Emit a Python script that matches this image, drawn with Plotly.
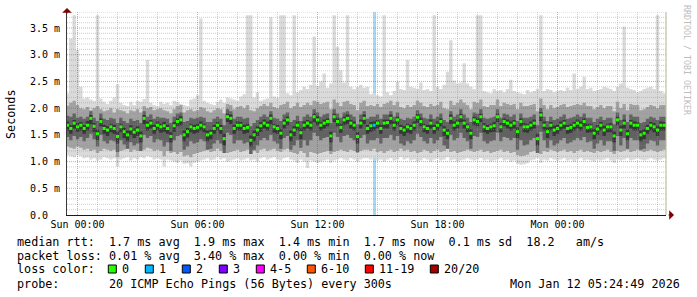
import plotly.graph_objects as go
import pandas as pd

# ---------------- data (round-trip times in 1/100 ms, 10-minute steps) -------------
START = "2026-01-10 23:25:00"
N_STEPS = 180

MEDIAN = [
    168, 162, 172, 165, 168, 162, 168, 181, 166, 152,
    175, 162, 159, 165, 162, 147, 165, 156, 150, 161,
    155, 159, 148, 181, 168, 172, 162, 168, 165, 167,
    162, 147, 167, 175, 178, 150, 156, 165, 162, 164,
    168, 165, 150, 153, 162, 168, 162, 143, 184, 181,
    162, 168, 168, 162, 164, 140, 150, 159, 167, 172,
    168, 181, 165, 162, 153, 172, 178, 150, 159, 168,
    154, 168, 172, 168, 184, 178, 168, 172, 175, 148,
    184, 175, 164, 178, 181, 172, 168, 147, 172, 181,
    162, 167, 168, 172, 162, 172, 173, 181, 168, 178,
    162, 159, 165, 162, 168, 183, 175, 165, 162, 172,
    162, 168, 175, 159, 153, 181, 168, 172, 184, 172,
    165, 153, 178, 175, 184, 165, 162, 165, 167, 184,
    165, 175, 172, 168, 172, 156, 175, 165, 165, 168,
    172, 143, 187, 168, 156, 168, 159, 162, 168, 172,
    162, 164, 168, 172, 168, 175, 164, 165, 153, 161,
    168, 159, 165, 165, 148, 178, 159, 172, 152, 172,
    168, 168, 150, 153, 162, 168, 165, 159, 168, 168,
]

SMOKE_MAX = [
    228, 330, 374, 309, 240, 218, 220, 216, 214, 374,
    218, 212, 208, 214, 220, 245, 210, 206, 204, 212,
    206, 214, 212, 217, 290, 210, 206, 204, 212, 208,
    210, 206, 214, 212, 208, 206, 204, 216, 218, 224,
    368, 214, 210, 208, 206, 212, 216, 210, 220, 218,
    216, 214, 222, 226, 374, 374, 220, 230, 214, 216,
    218, 370, 222, 220, 374, 374, 228, 224, 374, 230,
    234, 240, 236, 244, 334, 242, 250, 265, 238, 246,
    374, 315, 271, 248, 374, 240, 236, 240, 244, 238,
    240, 226, 228, 224, 222, 374, 230, 224, 232, 250,
    236, 234, 290, 240, 238, 236, 248, 234, 236, 232,
    374, 240, 236, 244, 268, 327, 252, 246, 248, 284,
    246, 240, 236, 374, 374, 232, 230, 228, 236, 232,
    234, 230, 236, 253, 232, 230, 228, 226, 234, 230,
    232, 236, 374, 232, 236, 234, 230, 232, 234, 232,
    238, 234, 265, 236, 240, 259, 236, 238, 232, 234,
    236, 240, 238, 236, 232, 240, 246, 353, 238, 236,
    234, 230, 232, 236, 238, 240, 236, 374, 232, 228,
]

SMOKE_MIN = [
    112, 110, 108, 112, 110, 106, 108, 104, 106, 102,
    104, 108, 106, 104, 106, 91, 104, 106, 108, 102,
    106, 104, 108, 106, 110, 108, 104, 106, 104, 91,
    104, 102, 100, 98, 102, 96, 97, 91, 98, 100,
    102, 104, 106, 102, 104, 108, 104, 106, 100, 102,
    104, 106, 102, 104, 106, 102, 104, 100, 106, 108,
    104, 106, 108, 104, 102, 106, 108, 104, 102, 98,
    104, 100, 88, 102, 100, 98, 100, 102, 104, 98,
    102, 104, 106, 104, 102, 106, 104, 100, 104, 106,
    106, 104, 108, 102, 104, 100, 104, 106, 102, 104,
    108, 104, 106, 102, 104, 100, 102, 106, 104, 100,
    104, 106, 102, 104, 108, 102, 104, 100, 102, 104,
    106, 104, 102, 104, 106, 102, 104, 100, 102, 104,
    106, 102, 104, 100, 102, 96, 94, 95, 97, 102,
    104, 106, 98, 104, 102, 106, 104, 102, 104, 106,
    102, 104, 100, 104, 106, 102, 104, 102, 100, 104,
    102, 104, 106, 102, 98, 104, 102, 104, 106, 102,
    104, 106, 104, 102, 104, 106, 104, 102, 104, 106,
]

SMOKE_HI2 = [
    205, 210, 214, 206, 200, 198, 202, 196, 200, 204,
    198, 194, 196, 200, 192, 198, 196, 194, 190, 196,
    194, 198, 192, 204, 200, 202, 196, 198, 200, 196,
    194, 190, 198, 204, 206, 192, 196, 198, 194, 196,
    202, 200, 194, 192, 196, 200, 198, 190, 208, 206,
    198, 202, 204, 200, 206, 196, 194, 200, 204, 208,
    204, 210, 202, 200, 206, 208, 212, 200, 204, 210,
    202, 206, 210, 206, 214, 212, 208, 210, 212, 198,
    216, 210, 204, 212, 214, 208, 206, 196, 210, 214,
    204, 206, 204, 208, 202, 208, 210, 214, 206, 212,
    202, 200, 206, 202, 206, 214, 210, 204, 202, 208,
    204, 206, 212, 200, 198, 214, 206, 210, 216, 210,
    206, 198, 212, 210, 216, 204, 202, 206, 206, 216,
    204, 210, 208, 206, 208, 198, 210, 204, 204, 206,
    208, 194, 218, 206, 198, 206, 200, 202, 206, 208,
    202, 204, 206, 208, 206, 210, 204, 204, 198, 202,
    206, 200, 204, 204, 194, 212, 200, 208, 196, 208,
    206, 206, 196, 198, 202, 206, 204, 200, 206, 206,
]

SMOKE_LO2 = [
    128, 126, 124, 128, 126, 122, 124, 120, 122, 116,
    120, 124, 122, 120, 122, 108, 120, 122, 124, 118,
    122, 120, 124, 122, 126, 124, 120, 122, 120, 110,
    120, 116, 118, 114, 118, 110, 112, 108, 114, 116,
    118, 120, 122, 118, 120, 124, 120, 122, 116, 118,
    120, 122, 118, 120, 122, 116, 120, 116, 122, 124,
    120, 122, 124, 120, 118, 122, 124, 118, 116, 114,
    120, 116, 108, 118, 116, 114, 116, 118, 120, 114,
    118, 120, 122, 120, 118, 122, 120, 116, 120, 122,
    122, 120, 124, 118, 120, 116, 120, 122, 118, 120,
    124, 120, 122, 118, 120, 116, 118, 122, 120, 116,
    120, 122, 118, 120, 124, 118, 120, 116, 118, 120,
    122, 120, 118, 120, 122, 118, 120, 116, 118, 120,
    122, 118, 120, 116, 118, 112, 110, 111, 113, 118,
    120, 116, 114, 120, 118, 122, 120, 118, 120, 122,
    118, 120, 116, 120, 122, 118, 120, 118, 116, 120,
    118, 120, 122, 118, 114, 120, 118, 120, 122, 118,
    120, 122, 120, 118, 120, 122, 120, 118, 120, 122,
]

SMOKE_HI3 = [
    186, 184, 190, 182, 184, 180, 184, 194, 182, 176,
    190, 180, 178, 182, 180, 172, 182, 176, 172, 180,
    176, 178, 172, 194, 184, 188, 180, 184, 182, 182,
    180, 172, 184, 190, 192, 174, 176, 182, 180, 182,
    184, 182, 174, 174, 180, 184, 180, 168, 198, 194,
    180, 184, 184, 180, 182, 166, 172, 178, 184, 188,
    184, 194, 182, 180, 176, 188, 192, 174, 178, 186,
    176, 184, 188, 184, 198, 192, 184, 188, 190, 172,
    198, 190, 182, 192, 194, 188, 184, 170, 188, 194,
    180, 184, 184, 188, 180, 188, 188, 194, 184, 192,
    180, 178, 182, 180, 184, 196, 190, 182, 180, 188,
    180, 184, 190, 178, 174, 194, 184, 188, 198, 188,
    182, 174, 192, 190, 198, 182, 180, 182, 184, 198,
    182, 190, 188, 184, 188, 176, 190, 182, 182, 184,
    188, 168, 200, 184, 176, 184, 178, 180, 184, 188,
    180, 182, 184, 188, 184, 190, 182, 182, 174, 180,
    184, 178, 182, 182, 170, 192, 178, 188, 174, 188,
    184, 184, 172, 174, 180, 184, 182, 178, 184, 184,
]

SMOKE_LO3 = [
    146, 140, 148, 142, 146, 138, 144, 152, 142, 128,
    150, 138, 134, 140, 138, 118, 140, 132, 124, 136,
    130, 134, 120, 150, 144, 148, 136, 142, 140, 128,
    136, 120, 140, 148, 150, 122, 128, 138, 134, 136,
    142, 138, 122, 124, 134, 140, 134, 116, 154, 150,
    134, 140, 140, 134, 136, 114, 122, 130, 140, 144,
    140, 150, 138, 134, 124, 144, 148, 122, 130, 140,
    126, 140, 130, 140, 154, 148, 140, 144, 146, 120,
    154, 146, 136, 148, 150, 144, 140, 118, 144, 150,
    134, 140, 140, 144, 134, 144, 144, 150, 140, 148,
    134, 130, 138, 134, 140, 152, 146, 138, 134, 144,
    134, 140, 146, 130, 124, 150, 140, 144, 154, 144,
    138, 124, 148, 146, 154, 138, 134, 138, 140, 154,
    138, 146, 144, 140, 144, 122, 140, 130, 132, 140,
    144, 116, 156, 140, 126, 140, 130, 134, 140, 144,
    134, 136, 140, 144, 140, 146, 136, 138, 124, 134,
    140, 130, 138, 138, 120, 148, 130, 144, 124, 144,
    140, 140, 122, 124, 134, 140, 138, 130, 140, 140,
]

SMOKE_HI4 = [
    175, 168, 178, 172, 174, 168, 176, 187, 172, 160,
    181, 169, 166, 171, 169, 156, 171, 163, 158, 168,
    162, 166, 156, 187, 175, 178, 169, 175, 171, 174,
    169, 155, 174, 181, 185, 158, 163, 171, 169, 171,
    175, 171, 158, 160, 169, 174, 169, 152, 190, 188,
    169, 175, 174, 169, 171, 149, 158, 166, 174, 179,
    175, 188, 171, 169, 161, 179, 184, 158, 166, 175,
    162, 175, 178, 175, 190, 185, 174, 179, 181, 156,
    190, 182, 171, 184, 188, 178, 175, 155, 179, 188,
    169, 174, 175, 178, 169, 179, 179, 188, 175, 184,
    169, 166, 171, 169, 175, 189, 182, 171, 169, 179,
    169, 175, 181, 166, 161, 188, 175, 179, 190, 179,
    171, 161, 184, 182, 190, 172, 169, 171, 174, 190,
    172, 181, 179, 175, 178, 164, 181, 172, 171, 175,
    179, 152, 193, 175, 164, 174, 167, 169, 175, 178,
    169, 171, 174, 179, 175, 181, 171, 171, 161, 168,
    174, 167, 171, 172, 156, 184, 167, 179, 160, 178,
    175, 174, 158, 161, 169, 174, 172, 167, 175, 174,
]

SMOKE_LO4 = [
    158, 152, 162, 156, 158, 152, 158, 170, 156, 140,
    166, 152, 148, 155, 152, 134, 155, 144, 138, 150,
    144, 148, 136, 170, 158, 162, 152, 158, 154, 156,
    152, 136, 156, 166, 168, 138, 145, 155, 152, 154,
    158, 155, 138, 142, 152, 158, 152, 130, 174, 170,
    152, 158, 158, 152, 154, 128, 138, 148, 156, 162,
    158, 170, 154, 152, 142, 162, 168, 138, 148, 158,
    142, 158, 162, 158, 174, 168, 158, 162, 166, 136,
    174, 166, 154, 168, 170, 162, 158, 134, 162, 170,
    152, 156, 158, 162, 152, 162, 162, 170, 158, 168,
    152, 148, 154, 152, 158, 172, 166, 155, 152, 162,
    152, 158, 166, 148, 142, 170, 158, 162, 174, 162,
    155, 142, 168, 166, 174, 155, 152, 155, 156, 174,
    155, 166, 162, 158, 162, 144, 166, 155, 154, 158,
    162, 130, 176, 158, 144, 158, 148, 152, 158, 162,
    152, 154, 158, 162, 158, 166, 154, 155, 142, 150,
    158, 148, 155, 155, 136, 168, 148, 162, 140, 162,
    158, 158, 138, 142, 152, 158, 155, 148, 158, 158,
]

# lost pings (of 20) per step
LOSS = [
    0, 0, 0, 0, 0, 0, 0, 0, 0, 0,
    0, 0, 0, 0, 0, 0, 0, 0, 0, 0,
    0, 0, 0, 0, 0, 0, 0, 0, 0, 0,
    0, 0, 0, 0, 0, 0, 0, 0, 0, 0,
    0, 0, 0, 0, 0, 0, 0, 0, 0, 0,
    0, 0, 0, 0, 0, 0, 0, 0, 0, 0,
    0, 0, 0, 0, 0, 0, 0, 0, 0, 0,
    0, 0, 0, 0, 0, 0, 0, 0, 0, 0,
    0, 0, 0, 0, 0, 0, 0, 0, 0, 0,
    0, 0, 1, 0, 0, 0, 0, 0, 0, 0,
    0, 0, 0, 0, 0, 0, 0, 0, 0, 0,
    0, 0, 0, 0, 0, 0, 0, 0, 0, 0,
    0, 0, 0, 0, 0, 0, 0, 0, 0, 0,
    0, 0, 0, 0, 0, 0, 0, 0, 0, 0,
    0, 0, 0, 0, 0, 0, 0, 0, 0, 0,
    0, 0, 0, 0, 0, 0, 0, 0, 0, 0,
    0, 0, 0, 0, 0, 0, 0, 0, 0, 0,
    0, 0, 0, 0, 0, 0, 0, 0, 0, 0,
]

LOSS_LABELS = ["0", "1", "2", "3", "4-5", "6-10", "11-19", "20/20"]
LOSS_COLORS = ["#26ff00", "#00b8ff", "#0059ff", "#7e00ff", "#ff00ff", "#ff5500", "#ff0000", "#a10000"]
LOSS_BG = ["#ffffff", "#a2d9f3", "#9ab8f5", "#c2a3f5", "#f5a3f5", "#f5bba3", "#f5a3a3", "#d9a3a3"]

X_RANGE = ["2026-01-10 23:28:30", "2026-01-12 05:25:30"]
Y_MAX = 3.8
Y_TICKS = [0.0, 0.5, 1.0, 1.5, 2.0, 2.5, 3.0, 3.5]
Y_TICKTEXT = ["0.0\u00a0\u00a0", "0.5 m", "1.0 m", "1.5 m", "2.0 m", "2.5 m", "3.0 m", "3.5 m"]

LINE1 = "median rtt:  1.7 ms avg  1.9 ms max  1.4 ms min  1.7 ms now  0.1 ms sd  18.2   am/s"
LINE2 = "packet loss: 0.01 % avg  3.40 % max  0.00 % min  0.00 % now"
LINE3 = "loss color:"
LINE4 = "probe:       20 ICMP Echo Pings (56 Bytes) every 300s"
STAMP = "Mon Jan 12 05:24:49 2026"
WATERMARK = "RRDTOOL / TOBI OETIKER"

for arr in (MEDIAN, SMOKE_MAX, SMOKE_MIN, SMOKE_HI2, SMOKE_LO2, SMOKE_HI3, SMOKE_LO3, SMOKE_HI4, SMOKE_LO4, LOSS):
    assert len(arr) == N_STEPS, len(arr)

# ---------------- geometry helpers -------------------------------------------------
W, H = 697, 297
ML, MR, MT, MB = 67, 31, 12, 82
PW, PH = W - ML - MR, H - MT - MB


def px_x(px):
    return (px - ML) / PW


def px_y(py):
    return (H - MB - py) / PH


def ms(a):
    return [v / 100.0 for v in a]


def loss_index(n):
    if n <= 3:
        return n
    if n <= 5:
        return 4
    if n <= 10:
        return 5
    if n <= 19:
        return 6
    return 7


MONO = "DejaVu Sans Mono"

t = pd.date_range(START, periods=N_STEPS, freq="10min")
t_edges = list(t) + [t[-1] + pd.Timedelta(minutes=10)]
t_mid = t + pd.Timedelta(minutes=5)

fig = go.Figure()

# loss background columns
lx = [t_mid[i] for i in range(N_STEPS) if LOSS[i] > 0]
lc = [LOSS_BG[loss_index(LOSS[i])] for i in range(N_STEPS) if LOSS[i] > 0]
fig.add_trace(go.Bar(x=lx, y=[Y_MAX] * len(lx), width=600000, marker=dict(color=lc, line=dict(width=0)),
                     hoverinfo="skip", showlegend=False))

# smoke
bands = [
    (SMOKE_MIN, SMOKE_MAX, "#dadada"),
    (SMOKE_LO2, SMOKE_HI2, "#a2a2a2"),
    (SMOKE_LO3, SMOKE_HI3, "#626262"),
    (SMOKE_LO4, SMOKE_HI4, "#363636"),
]
for lo, hi, col in bands:
    lo_v, hi_v = ms(lo), ms(hi)
    fig.add_trace(go.Scatter(x=t_edges, y=lo_v + [lo_v[-1]], mode="lines",
                             line=dict(width=0, shape="hv"), hoverinfo="skip", showlegend=False))
    fig.add_trace(go.Scatter(x=t_edges, y=hi_v + [hi_v[-1]], mode="lines",
                             line=dict(width=0, shape="hv"), fill="tonexty", fillcolor=col,
                             hoverinfo="skip", showlegend=False))

# median markers coloured by loss
fig.add_trace(go.Scatter(x=t_mid, y=ms(MEDIAN), mode="markers",
                         marker=dict(symbol="square", size=3,
                                     color=[LOSS_COLORS[loss_index(n)] for n in LOSS],
                                     line=dict(width=0)),
                         showlegend=False))

# grid (drawn above the smoke, as rrdtool does)
shapes = []
MAJ = "rgba(200,40,40,0.45)"
MIN = "rgba(140,140,140,0.42)"
for k in range(1, int(round(Y_MAX * 10)) + 1):
    yv = k / 10
    shapes.append(dict(type="line", xref="paper", x0=0, x1=1, yref="y", y0=yv, y1=yv, layer="above",
                       line=dict(color=MAJ if k % 5 == 0 else MIN, width=1, dash="1px,1px")))
for h in pd.date_range("2026-01-11 00:00", "2026-01-12 05:00", freq="1h"):
    shapes.append(dict(type="line", xref="x", x0=h, x1=h, yref="paper", y0=0, y1=1, layer="above",
                       line=dict(color=MAJ if h.hour % 6 == 0 else MIN, width=1, dash="1px,1px")))
# right frame line
shapes.append(dict(type="line", xref="paper", x0=1, x1=1, yref="paper", y0=0, y1=1, layer="above",
                   line=dict(color="#b2b592", width=1)))

# legend boxes
annotations = []
bx = 108.3
for lab, col in zip(LOSS_LABELS, LOSS_COLORS):
    shapes.append(dict(type="rect", xref="paper", yref="paper",
                       x0=px_x(bx), x1=px_x(bx + 8), y0=px_y(273), y1=px_y(265),
                       fillcolor=col, line=dict(color="#000000", width=1), layer="above"))
    annotations.append(dict(text=lab.replace(" ", "\u00a0"), xref="paper", yref="paper",
                            x=px_x(bx + 13), y=px_y(269), xanchor="left", yanchor="middle",
                            showarrow=False, borderpad=0, font=dict(family=MONO, size=11.75, color="#000")))
    bx += 30 + 7 * len(lab)


def txt(s, xpx, ypx, anchor="left"):
    return dict(text=s.replace(" ", "\u00a0"), xref="paper", yref="paper", x=px_x(xpx), y=px_y(ypx),
                xanchor=anchor, yanchor="middle", showarrow=False, borderpad=0,
                font=dict(family=MONO, size=11.75, color="#000"))


annotations += [
    txt(LINE1, 16, 241.5),
    txt(LINE2, 16, 255.5),
    txt(LINE3, 16, 269),
    txt(LINE4, 16, 283.5),
    txt(STAMP, 681, 283.5, "right"),
    dict(text="Seconds", xref="paper", yref="paper", x=px_x(11), y=px_y(114), textangle=-90,
         xanchor="center", yanchor="middle", showarrow=False,
         font=dict(family=MONO, size=11.75, color="#000")),
    dict(text=WATERMARK, xref="paper", yref="paper", x=px_x(687), y=px_y(60), textangle=90,
         xanchor="center", yanchor="middle", showarrow=False,
         font=dict(family=MONO, size=8.3, color="#bdbdbd")),
    # axis arrows
    dict(text="", xref="paper", yref="paper", x=px_x(67), y=px_y(8), ax=0, ay=7, showarrow=True,
         arrowhead=1, arrowsize=1.6, arrowwidth=1, arrowcolor="#7f0000"),
    dict(text="", xref="paper", yref="paper", x=px_x(674), y=px_y(215), ax=-7, ay=0, showarrow=True,
         arrowhead=1, arrowsize=1.6, arrowwidth=1, arrowcolor="#7f0000"),
]

fig.update_layout(
    width=W, height=H, margin=dict(l=ML, r=MR, t=MT, b=MB, autoexpand=False),
    paper_bgcolor="white", plot_bgcolor="white", showlegend=False, bargap=0,
    font=dict(family=MONO, size=10, color="#000"),
    shapes=shapes, annotations=annotations,
)
fig.update_xaxes(type="date", range=X_RANGE, tickformat="%a %H:%M", tick0="2026-01-11 00:00",
                 dtick=6 * 3600 * 1000, showgrid=False, zeroline=False, showline=True,
                 linecolor="#1a1a1a", linewidth=1, ticks="", tickfont=dict(family=MONO, size=10, color="#000"))
fig.update_yaxes(range=[0, Y_MAX], tickvals=Y_TICKS, ticktext=Y_TICKTEXT, showgrid=False, zeroline=False,
                 showline=True, linecolor="#3a3a3a", linewidth=1, ticks="", ticklabelstandoff=4,
                 tickfont=dict(family=MONO, size=10, color="#000"))

fig.write_html("out.html")
